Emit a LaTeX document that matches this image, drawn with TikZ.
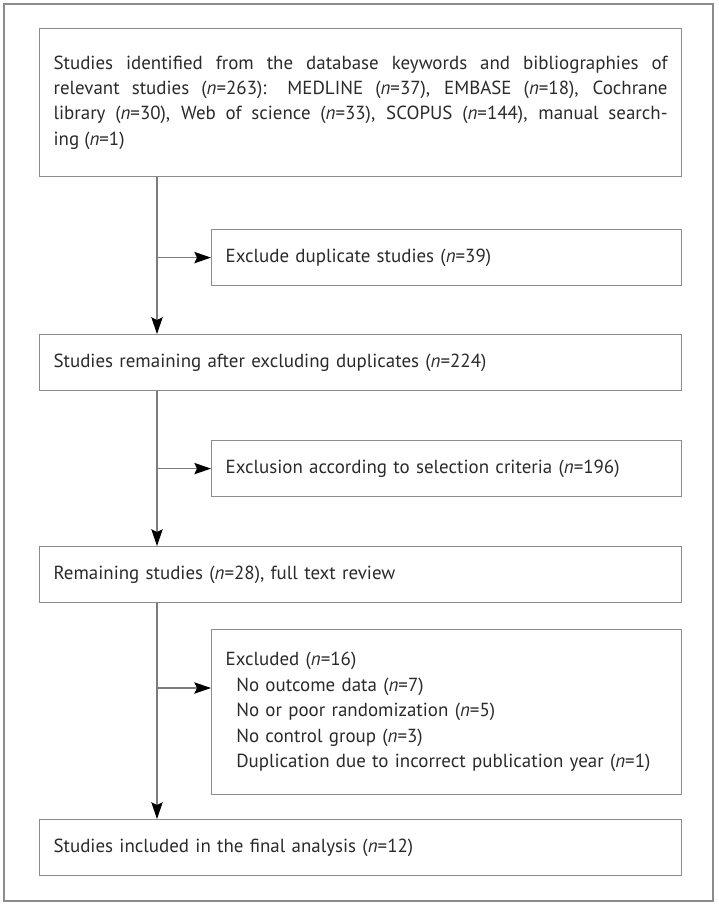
\documentclass[tikz,border=0pt]{standalone}
\usepackage{fontspec}
\setmainfont{PT Sans}
\usepackage{tikz}
\usetikzlibrary{calc,arrows.meta}
\definecolor{framegray}{HTML}{8C8C8C}
\definecolor{linegray}{HTML}{7C7C7C}
\definecolor{textgray}{HTML}{2A2A2A}
\newcommand{\ncount}[1]{(\textit{n}=#1)}
\newcommand{\reasonindent}{\hspace*{8pt}}
\tikzstyle{flowbox} = [
    draw=framegray,
    line width=0.9pt,
    rectangle,
    anchor=north west,
    inner xsep=10.5pt,
    inner ysep=0pt,
    align=left,
    text=textgray,
    font=\fontsize{14.2}{19.1}\selectfont
    ]
\tikzstyle{widebox} = [flowbox, text width=460.5pt, minimum height=42pt]
\tikzstyle{sidebox} = [flowbox, text width=331.5pt, minimum height=42pt]
\tikzstyle{flowarrow} = [
    draw=linegray,
    line width=0.9pt,
    -{Stealth[length=12.5pt,width=8.5pt,inset=2pt,color=black]}
    ]

\begin{document}
\begin{tikzpicture}[x=0.75pt,y=-0.75pt]
\useasboundingbox (0,0) rectangle (718,907);
\draw[framegray, line width=0.9pt] (4,4) rectangle (713,901);

\coordinate (trunk) at (157,0);

\node [widebox, minimum height=111pt, align=justify] (found) at (39,28) {%
Studies identified from the database keywords and bibliographies of\linebreak
relevant studies \ncount{263}: MEDLINE \ncount{37}, EMBASE \ncount{18}, Cochrane\linebreak
library \ncount{30}, Web of science \ncount{33}, SCOPUS \ncount{144}, manual search\mbox{-}\linebreak
ing \ncount{1}};
\node [sidebox] (dupl) at (211,229) {Exclude duplicate studies \ncount{39}};
\node [widebox] (remain) at (39,334) {Studies remaining after excluding duplicates \ncount{224}};
\node [sidebox] (crit) at (211,440) {Exclusion according to selection criteria \ncount{196}};
\node [widebox] (review) at (39,546) {Remaining studies \ncount{28}, full text review};
\node [sidebox, minimum height=123.75pt] (excl) at (211,629) {%
Excluded \ncount{16}\\
\reasonindent No outcome data \ncount{7}\\
\reasonindent No or poor randomization \ncount{5}\\
\reasonindent No control group \ncount{3}\\
\reasonindent Duplication due to incorrect publication year \ncount{1}};
\node [widebox] (final) at (39,819) {Studies included in the final analysis \ncount{12}};

% main flow
\draw[flowarrow] (found.south -| trunk) -- (remain.north -| trunk);
\draw[flowarrow] (remain.south -| trunk) -- (review.north -| trunk);
\draw[flowarrow] (review.south -| trunk) -- (final.north -| trunk);

% exclusions
\draw[flowarrow] (dupl.west -| trunk) -- (dupl.west);
\draw[flowarrow] (crit.west -| trunk) -- (crit.west);
\coordinate (exclbranch) at (157,688);
\draw[flowarrow] (exclbranch) -- (exclbranch -| excl.west);
\end{tikzpicture}
\end{document}
